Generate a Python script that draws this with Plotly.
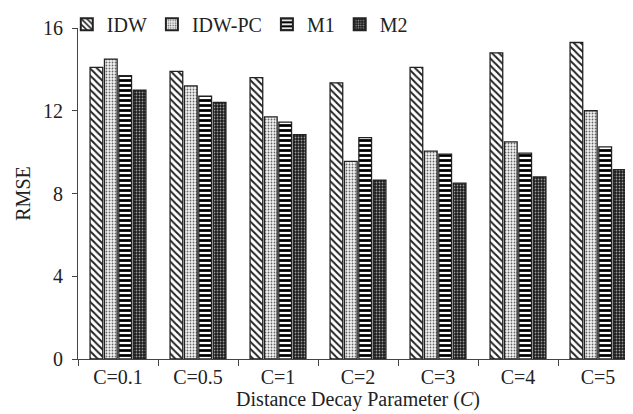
import plotly.graph_objects as go

categories = ["C=0.1", "C=0.5", "C=1", "C=2", "C=3", "C=4", "C=5"]
idw = [14.1, 13.9, 13.6, 13.35, 14.1, 14.8, 15.3]
idw_pc = [14.5, 13.2, 11.7, 9.55, 10.05, 10.5, 12.0]
m1 = [13.7, 12.7, 11.45, 10.7, 9.9, 9.95, 10.25]
m2 = [13.0, 12.4, 10.85, 8.65, 8.5, 8.8, 9.15]
y_ticks = [0, 4, 8, 12, 16]

font = "Liberation Serif"

fig = go.Figure()
series = [
    ("IDW", idw, dict(shape="\\", fgcolor="#222", bgcolor="white", size=5, solidity=0.4, fillmode="replace")),
    ("IDW-PC", idw_pc, dict(shape=".", fgcolor="#666", bgcolor="#f4f4f4", size=3, solidity=0.3, fillmode="replace")),
    ("M1", m1, dict(shape="-", fgcolor="black", bgcolor="white", size=5, solidity=0.55, fillmode="replace")),
    ("M2", m2, dict(shape=".", fgcolor="#999", bgcolor="#1a1a1a", size=3, solidity=0.3, fillmode="replace")),
]
for name, vals, pat in series:
    fig.add_trace(go.Bar(
        name=name, x=categories, y=vals,
        marker=dict(color="white", pattern=pat, line=dict(color="#222", width=1.3)),
    ))

fig.update_layout(
    width=633, height=414,
    barmode="group", bargap=0.28, bargroupgap=0.12,
    paper_bgcolor="white", plot_bgcolor="white",
    margin=dict(l=70, r=3, t=20, b=63, autoexpand=False),
    font=dict(family=font, size=20, color="#222"),
    showlegend=True,
    legend=dict(orientation="h", x=-0.02, y=1.07, xanchor="left", yanchor="top",
                font=dict(family=font, size=20), itemwidth=30, itemsizing="constant",
                bgcolor="rgba(0,0,0,0)", tracegroupgap=0),
    xaxis=dict(showline=True, linecolor="#444", linewidth=1.2, ticks="outside",
               tickson="boundaries", ticklen=6, tickcolor="#444",
               title=dict(text="Distance Decay Parameter (<i>C</i>)", font=dict(size=20), standoff=4),
               tickfont=dict(size=20)),
    yaxis=dict(range=[0, 16], tickvals=y_ticks, showline=True, linecolor="#444", linewidth=1.2,
               ticks="outside", ticklen=5, tickcolor="#444", showgrid=False, zeroline=False,
               ticklabelstandoff=5,
               title=dict(text="RMSE", font=dict(size=20), standoff=6),
               tickfont=dict(size=20)),
)
fig.write_html("out.html")
